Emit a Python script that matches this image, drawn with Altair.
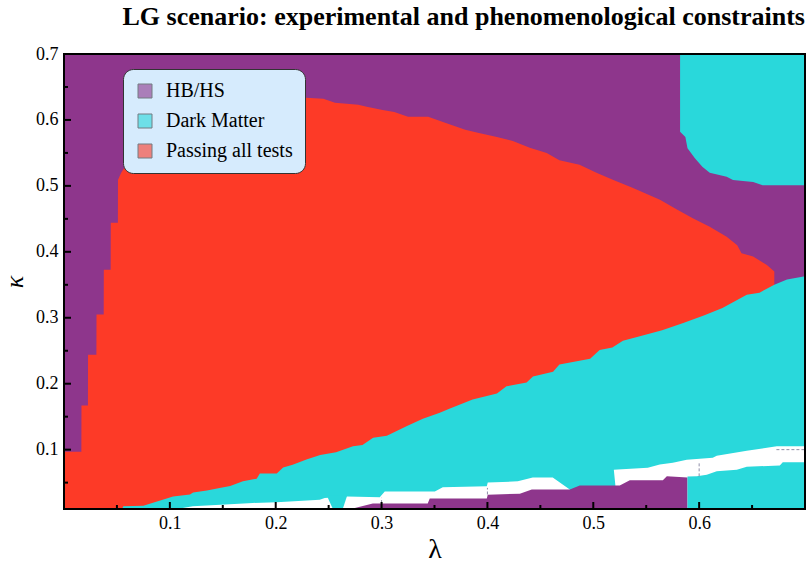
import altair as alt
import pandas as pd

PURPLE = "#8E368C"
CYAN = "#29D8DB"
RED = "#FD3A27"
SERIF = "Liberation Serif"

regions = ["HB/HS", "Dark Matter", "Passing all tests"]
region_colors = [PURPLE, CYAN, RED]

LAM_MIN, LAM_MAX = 0.0, 0.7
KAP_MIN, KAP_MAX = 0.01, 0.7

# ---- "Passing all tests" (red) region: upper boundary ----
red_lam = [0.0, 0.0164, 0.0165, 0.0226, 0.0227, 0.0306, 0.0307, 0.0375, 0.0376, 0.0441,
           0.0442, 0.0509, 0.0510, 0.054, 0.058, 0.07, 0.09, 0.12, 0.15, 0.19,
           0.224, 0.245, 0.256, 0.278, 0.286, 0.301, 0.312, 0.325, 0.344, 0.358,
           0.379, 0.393, 0.409, 0.424, 0.440, 0.456, 0.468, 0.487, 0.503, 0.519,
           0.537, 0.563, 0.579, 0.594, 0.610, 0.626, 0.636, 0.640, 0.651, 0.664,
           0.671]
red_top = [0.097, 0.097, 0.167, 0.167, 0.244, 0.244, 0.305, 0.305, 0.373, 0.373,
           0.444, 0.444, 0.509, 0.520, 0.530, 0.550, 0.575, 0.600, 0.615, 0.628,
           0.634, 0.632, 0.626, 0.623, 0.620, 0.615, 0.612, 0.605, 0.605, 0.597,
           0.585, 0.580, 0.574, 0.568, 0.558, 0.550, 0.539, 0.532, 0.520, 0.509,
           0.497, 0.479, 0.464, 0.451, 0.438, 0.423, 0.410, 0.398, 0.393, 0.380,
           0.370]

# ---- Dark Matter (cyan) region below the red one: upper boundary ----
dm_lam = [0.055, 0.056, 0.075, 0.081, 0.097, 0.103, 0.119, 0.122, 0.135, 0.147,
          0.157, 0.169, 0.182, 0.185, 0.201, 0.207, 0.216, 0.229, 0.242, 0.257,
          0.273, 0.282, 0.292, 0.305, 0.324, 0.339, 0.355, 0.364, 0.386, 0.409,
          0.418, 0.437, 0.443, 0.462, 0.468, 0.497, 0.506, 0.518, 0.528, 0.544,
          0.565, 0.585, 0.605, 0.622, 0.645, 0.657, 0.671, 0.683, 0.700]
dm_top = [0.0102, 0.014, 0.015, 0.018, 0.026, 0.029, 0.032, 0.035, 0.038, 0.042,
          0.045, 0.052, 0.056, 0.064, 0.064, 0.073, 0.077, 0.085, 0.092, 0.096,
          0.105, 0.107, 0.118, 0.121, 0.136, 0.147, 0.156, 0.162, 0.176, 0.185,
          0.196, 0.202, 0.211, 0.218, 0.229, 0.238, 0.251, 0.255, 0.265, 0.272,
          0.281, 0.292, 0.304, 0.315, 0.335, 0.338, 0.350, 0.358, 0.363]

# ---- Dark Matter (cyan) region in the upper right corner: lower boundary ----
dmtr_lam = [0.582, 0.587, 0.589, 0.596, 0.603, 0.610, 0.626, 0.632, 0.651, 0.660, 0.700]
dmtr_bot = [0.582, 0.574, 0.557, 0.542, 0.529, 0.520, 0.514, 0.509, 0.506, 0.501, 0.501]

# ---- white (no data) strip, left part: upper boundary ----
wa_lam = [0.1094, 0.1217, 0.1783, 0.2010, 0.2416, 0.2463, 0.2672, 0.2983, 0.3030,
          0.3503, 0.3578, 0.3994, 0.4003, 0.4287, 0.4428, 0.4617, 0.4778]
wa_top = [0.0106, 0.0141, 0.0192, 0.0202, 0.0242, 0.0268, 0.0288, 0.0277, 0.0364,
          0.0364, 0.0429, 0.0444, 0.0500, 0.0520, 0.0576, 0.0576, 0.0394]

# ---- white strip, right part ----
wb_lam = [0.5194, 0.5231, 0.5515, 0.5628, 0.5751, 0.5883, 0.6129, 0.6166, 0.6450, 0.6733, 0.700]
wb_top = [0.0697, 0.0700, 0.0727, 0.0773, 0.0803, 0.0848, 0.0879, 0.0909, 0.0985, 0.1050, 0.1050]
wb_bot = [0.0697, 0.0100, 0.0100, 0.0100, 0.0100, 0.0100, 0.0100, 0.0100, 0.0100, 0.0100, 0.0100]

# ---- HB/HS (purple) strip at the bottom: upper boundary ----
pb_lam = [0.2719, 0.2917, 0.3436, 0.3455, 0.3994, 0.4003, 0.4306, 0.4419, 0.4778,
          0.4872, 0.5250, 0.5345, 0.5657, 0.5695, 0.5890]
pb_top = [0.0102, 0.0182, 0.0182, 0.0258, 0.0258, 0.0318, 0.0333, 0.0394, 0.0394,
          0.0455, 0.0455, 0.0535, 0.0535, 0.0595, 0.0576]

# ---- cyan tongue through the white strip ----
tg_lam = [0.2492, 0.2539, 0.2634, 0.2672]
tg_top = [0.030, 0.030, 0.030, 0.030]
tg_bot = [0.027, 0.0102, 0.0102, 0.0288]

# ---- cyan at the bottom right: upper boundary ----
cb_lam = [0.5890, 0.5978, 0.6072, 0.6166, 0.6356, 0.6450, 0.6762, 0.6790, 0.700]
cb_top = [0.0591, 0.0595, 0.0621, 0.0671, 0.0697, 0.0742, 0.0758, 0.0808, 0.0808]

# ---- dashed mesh lines visible in the white strips ----
mesh_v_lam = [0.3, 0.4, 0.6]
mesh_v_k1 = [0.019, 0.032, 0.0595]
mesh_v_k2 = [0.027, 0.042, 0.082]
mesh_h_kap = [0.1]
mesh_h_l1 = [0.673]
mesh_h_l2 = [0.700]

# ---- ticks ----
x_major = [0.1, 0.2, 0.3, 0.4, 0.5, 0.6]
x_minor = [0.05, 0.15, 0.25, 0.35, 0.45, 0.55, 0.65]
y_major = [0.1, 0.2, 0.3, 0.4, 0.5, 0.6, 0.7]
y_minor = [0.05, 0.15, 0.25, 0.35, 0.45, 0.55, 0.65]

W, H = 741, 455

xscale = alt.Scale(domain=[LAM_MIN, LAM_MAX], nice=False, zero=False)
yscale = alt.Scale(domain=[KAP_MIN, KAP_MAX], nice=False, zero=False)
xaxis = alt.Axis(values=x_major, format=".1f", ticks=False, domain=False, grid=False,
                 labelFont=SERIF, labelFontSize=18, labelColor="black", labelPadding=5,
                 title="λ", titleFont=SERIF, titleFontSize=28, titleFontWeight="normal",
                 titleColor="black", titlePadding=3, zindex=1)
yaxis = alt.Axis(values=y_major, format=".1f", ticks=False, domain=False, grid=False,
                 labelFont=SERIF, labelFontSize=18, labelColor="black", labelPadding=6,
                 title="κ", titleFont=SERIF, titleFontSize=26, titleFontWeight="normal",
                 titleFontStyle="italic", titleColor="black", titlePadding=8, zindex=1)

cscale = alt.Scale(domain=regions, range=region_colors)
legend = alt.Legend(title=None, orient="none", legendX=59, legendY=15,
                    fillColor="#D6EBFD", strokeColor="#333333", cornerRadius=10,
                    padding=12, symbolType="square", symbolSize=196,
                    symbolStrokeColor="#333333", symbolStrokeWidth=1, symbolOpacity=0.6,
                    labelFont=SERIF, labelFontSize=20, labelColor="black",
                    rowPadding=10, labelOffset=11)


def X(f):
    return alt.X(f, type="quantitative", scale=xscale, axis=xaxis)


def Y(f):
    return alt.Y(f, type="quantitative", scale=yscale, axis=yaxis)


def area(lams, tops, bots=None, region=None, color=None):
    if bots is None:
        bots = [KAP_MIN] * len(lams)
    df = pd.DataFrame({"lam": lams, "top": tops, "bot": bots})
    enc = dict(x=X("lam"), y=Y("top"), y2=alt.Y2("bot"))
    if region is not None:
        df["region"] = region
        enc["color"] = alt.Color("region:N", scale=cscale, legend=legend)
        mark = alt.Chart(df).mark_area(interpolate="linear", opacity=1)
    else:
        mark = alt.Chart(df).mark_area(interpolate="linear", color=color, opacity=1)
    return mark.encode(**enc)


bg = alt.Chart(pd.DataFrame({"l1": [LAM_MIN], "l2": [LAM_MAX], "k1": [KAP_MIN], "k2": [KAP_MAX],
                             "region": ["HB/HS"]})).mark_rect(opacity=1).encode(
    x=X("l1"), x2=alt.X2("l2"), y=Y("k1"), y2=alt.Y2("k2"),
    color=alt.Color("region:N", scale=cscale, legend=legend))

dm_tr = area(dmtr_lam, dmtr_bot, [KAP_MAX] * len(dmtr_lam), region="Dark Matter")
red = area(red_lam, red_top, region="Passing all tests")
dm = area(dm_lam, dm_top, region="Dark Matter")
white_a = area(wa_lam, wa_top, color="white")
white_b = area(wb_lam, wb_top, wb_bot, color="white")
purple_b = area(pb_lam, pb_top, region="HB/HS")
tongue = area(tg_lam, tg_top, tg_bot, region="Dark Matter")
cyan_b = area(cb_lam, cb_top, region="Dark Matter")

mesh_v = alt.Chart(pd.DataFrame({"lam": mesh_v_lam, "k1": mesh_v_k1, "k2": mesh_v_k2})).mark_rule(
    color="#8E8EA8", strokeDash=[3, 2], strokeWidth=1).encode(x=X("lam"), y=Y("k1"), y2=alt.Y2("k2"))
mesh_h = alt.Chart(pd.DataFrame({"kap": mesh_h_kap, "l1": mesh_h_l1, "l2": mesh_h_l2})).mark_rule(
    color="#8E8EA8", strokeDash=[3, 2], strokeWidth=1).encode(y=Y("kap"), x=X("l1"), x2=alt.X2("l2"))

frame = alt.Chart(pd.DataFrame({"l1": [LAM_MIN], "l2": [LAM_MAX], "k1": [KAP_MIN], "k2": [KAP_MAX]})).mark_rect(
    filled=False, stroke="black", strokeWidth=2).encode(
    x=X("l1"), x2=alt.X2("l2"), y=Y("k1"), y2=alt.Y2("k2"))


def xticks(vals, length):
    return alt.Chart(pd.DataFrame({"lam": vals})).mark_rule(color="black", strokeWidth=2).encode(
        x=X("lam"), y=alt.value(H), y2=alt.value(H - length))


def yticks(vals, length):
    return alt.Chart(pd.DataFrame({"kap": vals})).mark_rule(color="black", strokeWidth=2).encode(
        y=Y("kap"), x=alt.value(0), x2=alt.value(length))


chart = alt.layer(
    bg, dm_tr, red, dm, white_a, white_b, purple_b, tongue, cyan_b,
    mesh_v, mesh_h, frame,
    xticks(x_major, 7), xticks(x_minor, 4), yticks(y_major, 7), yticks(y_minor, 4),
).properties(
    width=W, height=H,
    title=alt.Title("LG scenario: experimental and phenomenological constraints",
                    font=SERIF, fontSize=26, fontWeight="bold", color="black",
                    anchor="end", frame="group", offset=15),
    autosize=alt.AutoSizeParams(type="none"),
    padding={"left": 64, "top": 54, "right": 1, "bottom": 58},
).configure_view(stroke=None).configure_legend(strokeWidth=1.5).configure(background="white")

chart.save("out.html", embed_options={"renderer": "svg", "actions": False})
